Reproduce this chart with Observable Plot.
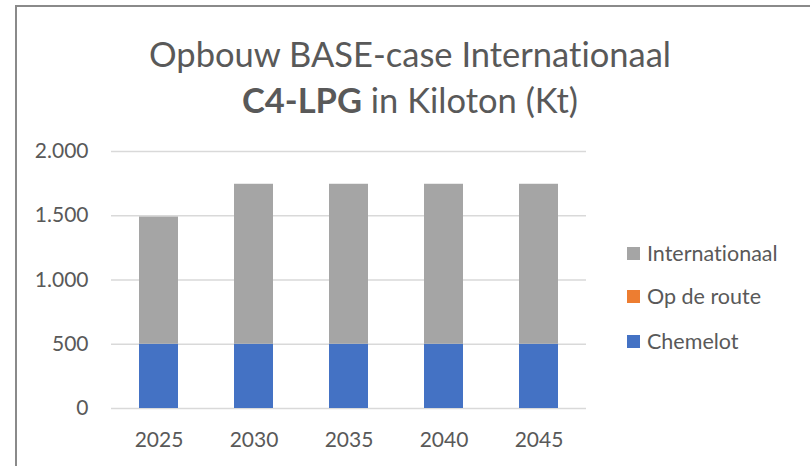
<!DOCTYPE html>
<html>
<head>
<meta charset="utf-8">
<script src="https://cdn.jsdelivr.net/npm/d3@7"></script>
<script src="https://cdn.jsdelivr.net/npm/@observablehq/plot@0.6"></script>
<style>
  html, body { margin: 0; padding: 0; background: #fff; }
  #wrap { position: relative; width: 810px; height: 466px; overflow: hidden; font-family: Lato, "Open Sans", sans-serif; color: #595959; font-variant-ligatures: none; }
  #frame { position: absolute; left: 15px; top: 5px; width: 820px; height: 480px; border-left: 2px solid #8a8a8a; border-top: 2px solid #8a8a8a; box-sizing: border-box; }
  #title { position: absolute; left: 0; width: 820px; top: 31px; text-align: center; font-size: 34.5px; line-height: 46px; color: #595959; }
  #chart { position: absolute; left: 0; top: 0; }
  #chart text { font-variant-ligatures: none; }
  #legend { position: absolute; left: 627px; top: 0; font-size: 21.5px; color: #595959; }
  .item { position: absolute; left: 0; white-space: nowrap; display: flex; align-items: center; height: 26px; }
  .sw { width: 13px; height: 13px; margin-right: 7px; flex: none; }
</style>
</head>
<body>
<div id="wrap">
  <div id="frame"></div>
  <div id="chart"></div>
  <div id="title">Opbouw BASE-case Internationaal<br><b>C4-LPG</b> in Kiloton (Kt)</div>
  <div id="legend"></div>
</div>
<script>
const years = ["2025", "2030", "2035", "2040", "2045"];
const chemelot = [500, 500, 500, 500, 500];
const opDeRoute = [0, 0, 0, 0, 0];
const internationaal = [990, 1245, 1245, 1245, 1245];
const seriesNames = ["Chemelot", "Op de route", "Internationaal"];
const seriesColors = ["#4472c4", "#ed7d31", "#a5a5a5"];
const yTicks = [0, 500, 1000, 1500, 2000];

const seriesValues = [chemelot, opDeRoute, internationaal];
const data = [];
seriesNames.forEach((s, si) => {
  years.forEach((y, i) => data.push({year: y, series: s, value: seriesValues[si][i]}));
});

const nl = d3.formatLocale({decimal: ",", thousands: ".", grouping: [3], currency: ["€", ""]});
const fmt = nl.format(",d");

const chart = Plot.plot({
  width: 810,
  height: 466,
  marginLeft: 111,
  marginRight: 224,
  marginTop: 151,
  marginBottom: 58,
  style: {fontFamily: "Lato, 'Open Sans', sans-serif", fontSize: "21px", color: "#595959", background: "transparent"},
  x: {domain: years, paddingInner: 0.59, paddingOuter: 0.295, label: null},
  y: {domain: [0, 2000], label: null},
  color: {domain: seriesNames, range: seriesColors},
  marks: [
    Plot.ruleY(yTicks, {stroke: "#d9d9d9", strokeWidth: 1.5}),
    Plot.barY(data, Plot.stackY({x: "year", y: "value", fill: "series", order: seriesNames})),
    Plot.axisY(yTicks, {tickSize: 0, tickPadding: 23, tickFormat: fmt, fill: "#595959", fontSize: 21, label: null}),
    Plot.axisX({tickSize: 0, tickPadding: 24, fill: "#595959", fontSize: 21, label: null})
  ]
});
document.getElementById("chart").appendChild(chart);

const legendItems = [
  {name: "Internationaal", color: "#a5a5a5", y: 253},
  {name: "Op de route", color: "#ed7d31", y: 296},
  {name: "Chemelot", color: "#4472c4", y: 341}
];
const legend = document.getElementById("legend");
legendItems.forEach(it => {
  const d = document.createElement("div");
  d.className = "item";
  d.style.top = (it.y - 13) + "px";
  const sw = document.createElement("span");
  sw.className = "sw";
  sw.style.background = it.color;
  const t = document.createElement("span");
  t.textContent = it.name;
  d.appendChild(sw); d.appendChild(t);
  legend.appendChild(d);
});
</script>
</body>
</html>
